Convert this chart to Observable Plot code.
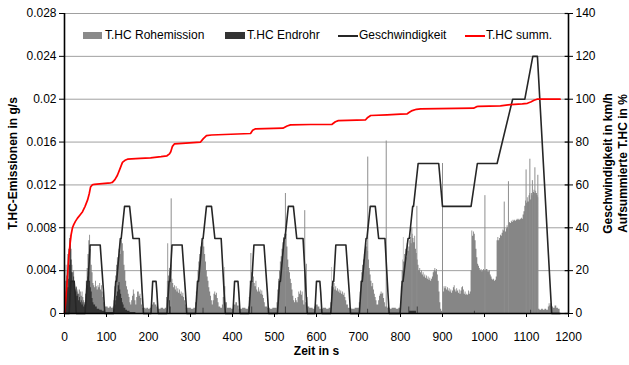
<!DOCTYPE html>
<html>
<head>
<meta charset="utf-8">
<script src="https://cdn.jsdelivr.net/npm/d3@7"></script>
<script src="https://cdn.jsdelivr.net/npm/@observablehq/plot@0.6"></script>
<style>
  html, body { margin: 0; padding: 0; background: #fff; }
  #wrap { position: relative; width: 629px; height: 365px; font-family: "Liberation Sans", Arial, sans-serif; }
  .lg { position: absolute; font-size: 12px; line-height: 14px; color: #000; white-space: nowrap; }
  .sw { position: absolute; }
</style>
</head>
<body>
<div id="wrap"></div>
<script>
// Time axis (s) and left axis (g/s) ticks
const timeTicks = [0, 100, 200, 300, 400, 500, 600, 700, 800, 900, 1000, 1100, 1200];
const emissionTicks = [0, 0.004, 0.008, 0.012, 0.016, 0.02, 0.024, 0.028];
const emissionTickLabels = ["0", "0.004", "0.008", "0.012", "0.016", "0.02", "0.024", "0.028"];
// Right axis: speed in km/h and cumulative share in %
const rightTickLabels = ["0", "20", "40", "60", "80", "100", "120", "140"];
const rightMax = 140;

// Vehicle speed [s, km/h]
const speed = [
  [0,0],[11,0],[15,15],[23,15],[25,10],[28,0],[49,0],[54,15],[56,15],[61,32],[85,32],[93,10],[96,0],
  [117,0],[122,15],[124,15],[133,35],[135,35],[143,50],[155,50],[163,35],[176,35],[178,35],[185,10],[188,0],
  [206,0],[210,15],[218,15],[220,10],[223,0],[244,0],[249,15],[251,15],[256,32],[280,32],[288,10],[291,0],
  [312,0],[317,15],[319,15],[328,35],[330,35],[338,50],[350,50],[358,35],[371,35],[373,35],[380,10],[383,0],
  [401,0],[405,15],[413,15],[415,10],[418,0],[439,0],[444,15],[446,15],[451,32],[475,32],[483,10],[486,0],
  [507,0],[512,15],[514,15],[523,35],[525,35],[533,50],[545,50],[553,35],[566,35],[568,35],[575,10],[578,0],
  [596,0],[600,15],[608,15],[610,10],[613,0],[634,0],[639,15],[641,15],[646,32],[670,32],[678,10],[681,0],
  [702,0],[707,15],[709,15],[718,35],[720,35],[728,50],[740,50],[748,35],[761,35],[763,35],[770,10],[773,0],
  [799,0],[804,15],[806,15],[818,35],[821,35],[829,50],[831,50],[842,70],[891,70],[900,50],[968,50],
  [983,70],[1030,70],[1067,100],[1096,100],[1115,120],[1126,120],[1160,0],[1180,0]
];

// Raw (engine-out) HC emission [s, g/s]
const rawEmission = [
  [0,0],[2,0.0030],[4,0.0045],[6,0.0035],[8,0.0055],[10,0.0060],[12,0.0070],[14,0.0073],[16,0.0060],[18,0.0045],
  [20,0.0038],[22,0.0040],[24,0.0030],[26,0.0022],[28,0.0025],[30,0.0020],[32,0.0022],[34,0.0018],[36,0.0022],
  [38,0.0020],[40,0.0016],[42,0.0020],[44,0.0015],[46,0.0012],[48,0.0010],[50,0.0018],[52,0.0030],[54,0.0042],
  [56,0.0055],[58,0.0068],[60,0.0073],[62,0.0060],[64,0.0045],[66,0.0038],[68,0.0028],[70,0.0026],[72,0.0024],
  [74,0.0030],[76,0.0025],[78,0.0022],[80,0.0026],[82,0.0024],[84,0.0028],[86,0.0022],[88,0.0026],[90,0.0020],
  [92,0.0015],[94,0.0010],[96,0.0006],[100,0.0006],[104,0.0005],[108,0.0006],[112,0.0005],[116,0.0006],
  [118,0.0012],[120,0.0025],[122,0.0035],[124,0.0045],[126,0.0052],[128,0.0048],[130,0.0060],[132,0.0055],
  [134,0.0068],[136,0.0072],[138,0.0065],[140,0.0058],[142,0.0045],[144,0.0040],[146,0.0030],[148,0.0025],
  [150,0.0022],[152,0.0018],[154,0.0015],[156,0.0010],[158,0.0008],[160,0.0012],[162,0.0016],[164,0.0022],
  [166,0.0018],[168,0.0012],[170,0.0008],[172,0.0015],[174,0.0020],[176,0.0020],[178,0.0016],[180,0.0018],
  [182,0.0014],[184,0.0008],[186,0.0005],[190,0.0005],[194,0.0004],
  [196,0.0005],[200,0.0004],[204,0.0005],[208,0.0008],[212,0.0010],[216,0.0008],[220,0.0006],[224,0.0004],
  [230,0.0005],[236,0.0004],[240,0.0005],[243,0.0015],[245,0.0030],[246,0.0065],[248,0.0035],[250,0.0042],
  [252,0.0040],[254,0.0045],[256,0.0032],[258,0.0028],[260,0.0024],[262,0.0026],[264,0.0022],[266,0.0025],
  [268,0.0020],[270,0.0023],[272,0.0019],[274,0.0022],[276,0.0018],[278,0.0020],[280,0.0016],[282,0.0019],
  [284,0.0015],[286,0.0012],[288,0.0008],[290,0.0005],[296,0.0005],[302,0.0004],[308,0.0005],[312,0.0010],
  [314,0.0020],[316,0.0030],[318,0.0040],[320,0.0048],[322,0.0055],[324,0.0062],[326,0.0058],[328,0.0066],
  [330,0.0070],[332,0.0062],[334,0.0055],[336,0.0048],[338,0.0040],[340,0.0034],[342,0.0030],[344,0.0024],
  [346,0.0020],[348,0.0016],[350,0.0012],[352,0.0008],[354,0.0012],[356,0.0018],[358,0.0020],[360,0.0017],
  [362,0.0019],[364,0.0014],[366,0.0010],[368,0.0006],[372,0.0005],[376,0.0008],[378,0.0015],[380,0.0030],
  [381,0.0043],[382,0.0025],[384,0.0010],[388,0.0005],
  [392,0.0005],[398,0.0004],[404,0.0008],[408,0.0010],[412,0.0007],[416,0.0004],[424,0.0005],[432,0.0004],
  [438,0.0006],[440,0.0015],[442,0.0030],[444,0.0056],[446,0.0038],[448,0.0030],[450,0.0034],[452,0.0028],
  [454,0.0025],[456,0.0030],[458,0.0022],[460,0.0020],[462,0.0024],[464,0.0020],[466,0.0022],[468,0.0018],
  [470,0.0021],[472,0.0017],[474,0.0014],[476,0.0010],[478,0.0006],[484,0.0005],[490,0.0004],[496,0.0005],
  [502,0.0005],[506,0.0010],[508,0.0022],[510,0.0032],[512,0.0040],[514,0.0048],[516,0.0053],[518,0.0060],
  [520,0.0066],[522,0.0071],[524,0.0074],[526,0.0070],[528,0.0074],[530,0.0062],[532,0.0050],[534,0.0043],
  [536,0.0038],[538,0.0032],[540,0.0028],[542,0.0022],[544,0.0016],[546,0.0012],[548,0.0010],[550,0.0014],
  [552,0.0012],[554,0.0010],[556,0.0015],[558,0.0020],[560,0.0018],[562,0.0021],[564,0.0017],[566,0.0020],
  [568,0.0012],[570,0.0008],[574,0.0010],[576,0.0046],[578,0.0015],[580,0.0006],[584,0.0005],
  [588,0.0005],[592,0.0004],[596,0.0006],[600,0.0008],[604,0.0006],[608,0.0004],[616,0.0005],[624,0.0004],
  [630,0.0005],[634,0.0010],[636,0.0025],[637,0.0043],[638,0.0028],[640,0.0024],[642,0.0028],[644,0.0022],
  [646,0.0025],[648,0.0021],[650,0.0023],[652,0.0020],[654,0.0022],[656,0.0019],[658,0.0021],[660,0.0018],
  [662,0.0020],[664,0.0017],[666,0.0019],[668,0.0015],[670,0.0012],[672,0.0008],[676,0.0005],[684,0.0004],
  [692,0.0005],[700,0.0005],[702,0.0010],[704,0.0020],[706,0.0030],[708,0.0038],[710,0.0045],[712,0.0050],
  [714,0.0055],[716,0.0060],[718,0.0065],[720,0.0062],[722,0.0058],[724,0.0050],[726,0.0042],[728,0.0036],
  [730,0.0030],[732,0.0025],[734,0.0028],[736,0.0022],[738,0.0018],[740,0.0015],[742,0.0012],[744,0.0008],
  [748,0.0012],[750,0.0016],[752,0.0018],[754,0.0020],[756,0.0018],[758,0.0019],[760,0.0014],[762,0.0010],
  [764,0.0006],[770,0.0005],[776,0.0004],[780,0.0005],
  [784,0.0005],[790,0.0004],[796,0.0005],[800,0.0010],[802,0.0025],[804,0.0040],[806,0.0050],[807,0.0071],
  [808,0.0048],[810,0.0055],[812,0.0060],[814,0.0052],[816,0.0065],[818,0.0058],[820,0.0062],[822,0.0068],
  [824,0.0071],[826,0.0065],[828,0.0074],[830,0.0070],[832,0.0066],[834,0.0072],[836,0.0060],[838,0.0056],
  [840,0.0050],[842,0.0045],[844,0.0040],[846,0.0042],[848,0.0038],[850,0.0040],[852,0.0036],[854,0.0038],
  [856,0.0034],[858,0.0036],[860,0.0033],[862,0.0035],[864,0.0032],[866,0.0034],[868,0.0031],[870,0.0033],
  [872,0.0030],[874,0.0032],[876,0.0034],[878,0.0038],[880,0.0040],[882,0.0042],[884,0.0039],[886,0.0041],
  [888,0.0036],[890,0.0030],[892,0.0020],[894,0.0010],[896,0.0004],[898,0.0002],[900,0.0008],[902,0.0020],
  [904,0.0025],[906,0.0023],[908,0.0025],[910,0.0022],[912,0.0024],[914,0.0021],[916,0.0023],[918,0.0020],
  [920,0.0022],[922,0.0019],[924,0.0021],[926,0.0024],[928,0.0026],[930,0.0022],[932,0.0020],[934,0.0023],
  [936,0.0021],[938,0.0019],[940,0.0022],[942,0.0018],[944,0.0021],[946,0.0024],[948,0.0025],[950,0.0022],
  [952,0.0018],[954,0.0020],[956,0.0017],[958,0.0018],[960,0.0017],[962,0.0021],[964,0.0018],[966,0.0020],
  [968,0.0040],[970,0.0077],[972,0.0072],[974,0.0076],[976,0.0074],[978,0.0068],[980,0.0060],[982,0.0052],
  [984,0.0046],[986,0.0044],[988,0.0042],[990,0.0040],[992,0.0041],[994,0.0039],[996,0.0040],[998,0.0041],
  [1000,0.0040],[1004,0.0041],[1008,0.0039],[1012,0.0040],[1014,0.0036],[1016,0.0034],[1018,0.0032],
  [1020,0.0031],[1022,0.0032],[1024,0.0030],[1026,0.0031],[1028,0.0034],[1030,0.0068],[1032,0.0071],
  [1034,0.0068],[1036,0.0070],[1038,0.0073],[1040,0.0072],[1042,0.0075],[1044,0.0078],[1046,0.0077],
  [1048,0.0080],[1050,0.0076],[1052,0.0079],[1054,0.0082],[1056,0.0080],[1058,0.0084],[1060,0.0085],
  [1062,0.0084],[1064,0.0086],[1066,0.0085],[1068,0.0087],[1070,0.0086],[1072,0.0087],[1074,0.0086],
  [1076,0.0087],[1078,0.0088],[1080,0.0087],[1082,0.0088],[1084,0.0087],[1086,0.0088],[1088,0.0089],
  [1090,0.0088],[1092,0.0092],[1094,0.0095],[1096,0.0100],[1098,0.0105],[1100,0.0103],[1102,0.0108],
  [1104,0.0104],[1106,0.0110],[1108,0.0112],[1110,0.0106],[1112,0.0112],[1114,0.0110],[1116,0.0113],
  [1118,0.0115],[1120,0.0112],[1122,0.0114],[1124,0.0112],[1126,0.0110],[1128,0.0108],[1129,0.0004],
  [1132,0.0003],[1136,0.0004],[1140,0.0003],[1144,0.0004],[1148,0.0003],[1152,0.0006],[1154,0.0009],
  [1156,0.0007],[1158,0.0009],[1160,0.0006],[1164,0.0005],[1168,0.0007],[1172,0.0005],[1176,0.0004],[1180,0.0003]
];

// Single-second peaks of the raw emission [s, g/s]
const rawPeaks = [
  [254,0.0107],[526,0.0112],[572,0.0096],[722,0.0146],[766,0.0161],[827,0.0080],[839,0.0100],
  [900,0.0140],[1001,0.0110],[1047,0.0104],[1057,0.0123],[1099,0.0134],[1108,0.0144],[1114,0.0124],
  [1120,0.0136],[1127,0.0129]
];

// Tailpipe HC emission [s, g/s]
const tailpipe = [
  [0,0],[1,0.0152],[2,0.0010],[4,0.0020],[6,0.0030],[8,0.0024],[10,0.0032],[12,0.0045],[14,0.0068],[16,0.0050],
  [18,0.0038],[20,0.0030],[22,0.0034],[24,0.0026],[26,0.0020],[28,0.0024],[30,0.0016],[32,0.0018],[34,0.0012],
  [36,0.0015],[38,0.0010],[40,0.0012],[42,0.0008],[44,0.0010],[46,0.0006],[48,0.0008],[50,0.0010],[52,0.0018],
  [54,0.0026],[56,0.0034],[58,0.0038],[60,0.0030],[62,0.0024],[64,0.0020],[66,0.0014],[68,0.0010],[70,0.0008],
  [74,0.0006],[78,0.0004],[84,0.0003],[90,0.0002],[96,0.0001],[118,0.0004],[120,0.0008],[122,0.0012],
  [124,0.0016],[126,0.0020],[128,0.0026],[130,0.0029],[132,0.0022],[134,0.0018],[136,0.0014],[138,0.0010],
  [140,0.0008],[142,0.0005],[146,0.0003],[150,0.0002],[156,0.0001],[170,0],[248,0],[250,0.0012],[252,0.0006],
  [254,0],[328,0],[330,0.0005],[332,0],[444,0],[446,0.0006],[448,0],[524,0],[526,0.0006],[528,0],[720,0],
  [722,0.0004],[724,0],[818,0],[820,0.0006],[822,0.0002],[838,0],[840,0.0006],[842,0],[974,0],[976,0.0002],
  [978,0],[1108,0],[1110,0.0003],[1112,0],[1180,0]
];

// Cumulative tailpipe HC [s, %]
const cumulative = [
  [0,0],[2,4],[4,9],[6,14],[8,20],[10,26],[13,32],[16,37],[19,40],[22,41.5],[26,43],[31,44.5],[37,46],[43,47.5],
  [49,50],[55,53],[59,56],[62,59],[66,60],[71,60.3],[90,60.6],[110,61],[114,61.2],[120,62.5],[126,64.5],
  [132,67.5],[138,70.5],[144,71.5],[150,72],[180,72.4],[205,72.6],[230,73.2],[244,73.6],[250,74.5],[253,75.5],
  [257,78],[262,79.2],[280,79.4],[324,80],[330,81.5],[338,83],[350,83.3],[443,84],[448,85.5],[455,86.2],
  [520,86.5],[530,87.5],[538,88],[586,88.2],[637,88.3],[645,89.5],[652,90],[717,90.4],[722,91.5],[729,92.4],
  [768,92.7],[800,93],[816,93.2],[822,94],[828,94.7],[838,95.3],[848,95.5],[974,95.8],[980,96.4],[985,96.7],
  [1038,96.9],[1062,97.5],[1090,97.8],[1102,98.1],[1110,98.7],[1118,99.5],[1125,100],[1180,100]
];

const yMax = emissionTicks[emissionTicks.length - 1];
const toLeft = v => v * yMax / rightMax; // map km/h and % onto the g/s axis
const tickIndex = d => Math.round(d / 0.004);

const chart = Plot.plot({
  width: 629,
  height: 365,
  marginLeft: 64,
  marginRight: 61,
  marginTop: 13,
  marginBottom: 52,
  x: {domain: [0, 1200]},
  y: {domain: [0, yMax]},
  style: {fontFamily: "'Liberation Sans', Arial, sans-serif", fontSize: "12px", background: "#fff", color: "#000", overflow: "visible"},
  marks: [
    Plot.gridY(emissionTicks.slice(1), {stroke: "#a0a0a0", strokeOpacity: 1, strokeWidth: 1}),
    Plot.areaY(rawEmission, {x: d => d[0], y: d => d[1], curve: "step-after", fill: "#868686"}),
    Plot.ruleX(rawPeaks, {x: d => d[0], y1: 0, y2: d => d[1], stroke: "#8e8e8e", strokeWidth: 1}),
    Plot.areaY(tailpipe, {x: d => d[0], y: d => d[1], curve: "step-after", fill: "#333"}),
    Plot.line(speed, {x: d => d[0], y: d => toLeft(d[1]), stroke: "#262626", strokeWidth: 1.6}),
    Plot.line(cumulative, {x: d => d[0], y: d => toLeft(d[1]), stroke: "#ff0000", strokeWidth: 1.7}),
    // axis lines
    Plot.ruleX([0, 1200], {stroke: "#000", strokeWidth: 1.6}),
    Plot.ruleY([0], {stroke: "#000", strokeWidth: 1.6}),
    Plot.ruleY(emissionTicks, {x1: 1192, x2: 1200, stroke: "#000", strokeWidth: 1.2}),
    Plot.axisY({anchor: "left", ticks: emissionTicks, tickFormat: d => emissionTickLabels[tickIndex(d)], tickSize: 5, tickPadding: 3, label: null, fontSize: 12}),
    Plot.axisY({anchor: "right", ticks: emissionTicks, tickFormat: d => rightTickLabels[tickIndex(d)], tickSize: 4, tickPadding: 3, label: null, fontSize: 12}),
    Plot.axisX({ticks: timeTicks, tickFormat: d => String(d), tickSize: 4, tickPadding: 15, label: null, fontSize: 12}),
    // axis titles
    Plot.text(["T.HC-Emissionen in g/s"], {text: d => d, frameAnchor: "left", textAnchor: "middle", dx: -51, rotate: -90, fontWeight: "bold", fontSize: 12}),
    Plot.text(["Geschwindigkeit in km/h"], {text: d => d, frameAnchor: "right", textAnchor: "middle", dx: 40, rotate: -90, fontWeight: "bold", fontSize: 12}),
    Plot.text(["Aufsummierte T.HC in %"], {text: d => d, frameAnchor: "right", textAnchor: "middle", dx: 55, rotate: -90, fontWeight: "bold", fontSize: 12}),
    Plot.text(["Zeit in s"], {text: d => d, frameAnchor: "bottom", textAnchor: "middle", dy: 41, fontWeight: "bold", fontSize: 12})
  ]
});

const wrap = document.getElementById("wrap");
wrap.appendChild(chart);

// Legend inside the plot frame
const legendItems = [
  {label: "T.HC Rohemission", kind: "box", color: "#8a8a8a", sx: 83, sw: 19, tx: 105},
  {label: "T.HC Endrohr", kind: "box", color: "#333", sx: 225, sw: 20, tx: 247},
  {label: "Geschwindigkeit", kind: "line", color: "#262626", sx: 338, sw: 20, tx: 359},
  {label: "T.HC summ.", kind: "line", color: "#ff0000", sx: 465, sw: 20, tx: 486}
];
for (const item of legendItems) {
  const sw = document.createElement("div");
  sw.className = "sw";
  sw.style.left = item.sx + "px";
  sw.style.width = item.sw + "px";
  sw.style.background = item.color;
  if (item.kind === "box") { sw.style.top = "32px"; sw.style.height = "7px"; }
  else { sw.style.top = "34.5px"; sw.style.height = "2px"; }
  wrap.appendChild(sw);
  const tx = document.createElement("div");
  tx.className = "lg";
  tx.style.left = item.tx + "px";
  tx.style.top = "28px";
  tx.textContent = item.label;
  wrap.appendChild(tx);
}
</script>
</body>
</html>
